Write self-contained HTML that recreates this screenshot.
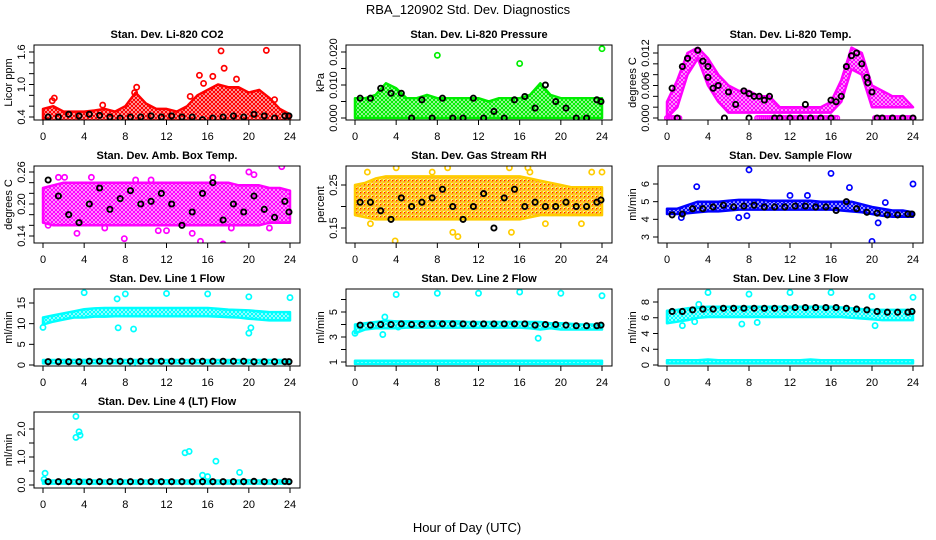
<!DOCTYPE html>
<html><head><meta charset="utf-8"><title>RBA_120902 Std. Dev. Diagnostics</title>
<style>
html,body{margin:0;padding:0;background:#fff;}
svg{display:block;font-family:"Liberation Sans",Arial,sans-serif;}
</style></head>
<body>
<svg id="chart" width="936" height="540" viewBox="0 0 936 540" xmlns="http://www.w3.org/2000/svg">
<text x="468" y="14" text-anchor="middle" font-size="13">RBA_120902  Std. Dev. Diagnostics</text>
<text x="467" y="532" text-anchor="middle" font-size="13">Hour of Day (UTC)</text>
<defs id="defs"></defs>
</svg>
<script>
// ---------- shared data ----------
const hours = [0,1,2,3,4,5,6,7,8,9,10,11,12,13,14,15,16,17,18,19,20,21,22,23,24];
const blackX = [0.5,1.5,2.5,3.5,4.5,5.5,6.5,7.5,8.5,9.5,10.5,11.5,12.5,13.5,14.5,15.5,16.5,17.5,18.5,19.5,20.5,21.5,22.5,23.5,23.9];
const xTicks = [0,4,8,12,16,20,24];

// CO2
const co2Lo = [0.33,0.33,0.33,0.33,0.33,0.33,0.33,0.33,0.33,0.33,0.33,0.33,0.33,0.33,0.33,0.33,0.33,0.33,0.33,0.33,0.33,0.33,0.33,0.33,0.33];
const co2Hi = [0.55,0.6,0.5,0.5,0.5,0.52,0.55,0.5,0.6,0.85,0.65,0.55,0.55,0.5,0.6,0.8,0.9,1.0,0.95,0.95,0.85,0.9,0.75,0.55,0.45];
const co2Black = [0.4,0.4,0.45,0.42,0.45,0.43,0.4,0.38,0.4,0.4,0.42,0.4,0.42,0.4,0.4,0.35,0.38,0.4,0.42,0.4,0.45,0.42,0.38,0.42,0.42];
const co2OutX = [17.3,21.7,17.6,15.2,16.5,18.8,15.6,9.1,8.9,1.1,0.9,5.8,22.5,14.3];
const co2OutY = [1.62,1.63,1.3,1.17,1.15,1.1,1.02,0.95,0.85,0.75,0.7,0.62,0.72,0.78];
const co2Ticks = [0.4,0.6,0.8,1.0,1.2,1.4,1.6];
const co2Labels = ["0.4","","","1.0","","","1.6"];

// Pressure
const presLo = [0,0,0,0,0,0,0,0,0,0,0,0,0,0,0,0,0,0,0,0,0,0,0,0,0];
const presHi = [0.006,0.006,0.007,0.0105,0.009,0.006,0.006,0.007,0.006,0.006,0.006,0.006,0.006,0.005,0.006,0.006,0.006,0.007,0.0105,0.007,0.006,0.006,0.006,0.006,0.006];
const presBlack = [0.006,0.006,0.009,0.0075,0.0075,0,0.0055,0,0.006,0,0,0.006,0,0.002,0,0.0055,0.0065,0.003,0.01,0.005,0.003,0,0,0.0055,0.005];
const presOutX = [8,16,24];
const presOutY = [0.019,0.0165,0.021];
const presTicks = [0,0.005,0.010,0.015,0.020];
const presLabels = ["0.000","","0.010","","0.020"];

// Li-820 Temp
const tempLo = [0,0.002,0.008,0.011,0.006,0.003,0.001,0.001,0.001,0.001,0.001,0.001,0.001,0.001,0.001,0.001,0.001,0.003,0.009,0.008,0.002,0.002,0.002,0.002,0.002];
const tempHi = [0.003,0.007,0.012,0.013,0.011,0.008,0.006,0.005,0.005,0.004,0.004,0.002,0.002,0.002,0.002,0.002,0.003,0.007,0.013,0.012,0.006,0.005,0.004,0.004,0.002];
const tempZeroStart = [0,8.8,20.3];
const tempZeroEnd = [1.2,16.6,24];
const tempBlackX = [0.5,1,1.5,2,3,3.5,4,4,4.5,5,5.6,6,6.7,7.5,8,8,8.5,9,9.5,10,10.5,11,12,13,13.5,14,15,16,16,16.5,17,17.5,18,18.5,19,19.5,19.6,20,20.5,21,22,23,24];
const tempBlackY = [0.0055,0,0.0095,0.011,0.0125,0.0105,0.0095,0.0075,0.0055,0.006,0,0.0048,0.0025,0.005,0,0.0045,0.004,0.004,0.0033,0.004,0,0,0,0,0.0025,0,0,0.0033,0,0.003,0.004,0.0095,0.0115,0.012,0.01,0.0075,0.0065,0.0048,0,0,0,0,0];
const tempTicks = [0,0.002,0.004,0.006,0.008,0.010,0.012];
const tempLabels = ["0.000","","","0.006","","","0.012"];

// Amb Box Temp
const ambLo = [0.165,0.16,0.16,0.16,0.16,0.16,0.16,0.16,0.16,0.16,0.16,0.16,0.16,0.16,0.16,0.16,0.16,0.16,0.16,0.16,0.16,0.16,0.165,0.165,0.165];
const ambHi = [0.23,0.235,0.24,0.24,0.24,0.24,0.24,0.24,0.24,0.24,0.24,0.24,0.24,0.24,0.24,0.24,0.24,0.24,0.24,0.235,0.235,0.235,0.23,0.23,0.225];
const ambBlack = [0.245,0.215,0.18,0.165,0.2,0.23,0.19,0.21,0.225,0.2,0.205,0.22,0.2,0.16,0.185,0.22,0.24,0.17,0.2,0.185,0.215,0.19,0.175,0.205,0.185];
const ambOutX = [0.5,3.3,9,7.9,15.3,17.5,20,23.2,12,14.5,22,1.5,6,4.7,20.5,11.2,2.1,16.5,10.5,18.3];
const ambOutY = [0.16,0.145,0.245,0.135,0.13,0.125,0.26,0.27,0.15,0.145,0.155,0.25,0.155,0.25,0.255,0.15,0.25,0.25,0.245,0.155];
const ambTicks = [0.14,0.16,0.18,0.20,0.22,0.24,0.26];
const ambLabels = ["0.14","","","0.20","","","0.26"];

// Gas Stream RH
const rhLo = [0.18,0.175,0.17,0.17,0.17,0.17,0.17,0.17,0.17,0.17,0.17,0.17,0.17,0.17,0.17,0.17,0.17,0.175,0.18,0.18,0.18,0.18,0.18,0.18,0.18];
const rhHi = [0.25,0.255,0.265,0.27,0.27,0.27,0.27,0.27,0.27,0.27,0.27,0.27,0.27,0.27,0.27,0.27,0.27,0.265,0.26,0.255,0.25,0.245,0.245,0.245,0.245];
const rhBlack = [0.21,0.21,0.19,0.17,0.22,0.2,0.21,0.22,0.24,0.2,0.17,0.2,0.23,0.15,0.22,0.24,0.2,0.21,0.2,0.2,0.21,0.2,0.2,0.21,0.215];
const rhOutX = [4,9,15,16.8,17,23,24,7.5,10,1.5,18.5,22,15.2,9.5,3.9,1.2];
const rhOutY = [0.29,0.29,0.29,0.29,0.28,0.28,0.28,0.28,0.13,0.16,0.16,0.16,0.14,0.14,0.12,0.28];
const rhTicks = [0.15,0.20,0.25];
const rhLabels = ["0.15","","0.25"];

// Sample Flow
const sfLo = [4.3,4.3,4.35,4.4,4.45,4.45,4.5,4.55,4.55,4.55,4.55,4.55,4.55,4.55,4.55,4.55,4.55,4.5,4.45,4.4,4.3,4.2,4.15,4.15,4.15];
const sfHi = [4.6,4.6,4.8,5.0,5.0,5.0,5.05,5.1,5.1,5.1,5.05,5.05,5.05,5.05,5.05,5.0,5.0,5.0,5.0,4.85,4.7,4.6,4.5,4.5,4.4];
const sfBlack = [4.25,4.3,4.6,4.6,4.7,4.8,4.7,4.75,4.8,4.7,4.7,4.7,4.75,4.75,4.7,4.7,4.5,5.0,4.6,4.4,4.35,4.25,4.25,4.3,4.3];
const sfOutX = [8,16,24,2.9,17.8,20,20.6,7,7.8,1.4,12,13.7,21.3];
const sfOutY = [6.8,6.6,6.0,5.85,5.8,2.75,3.8,4.1,4.2,4.1,5.35,5.35,4.95];
const sfTicks = [3,4,5,6];
const sfLabels = ["3","4","5","6"];

// Line 1 Flow
const l1Lo = [9.8,10.5,11,11.5,11.5,11.7,11.7,11.8,11.8,11.8,11.8,11.8,11.8,11.8,11.8,11.8,11.8,11.7,11.6,11.5,11.2,11,10.8,10.8,10.8];
const l1Hi = [11.5,12,12.5,13,13.5,13.7,13.8,13.8,13.8,13.8,13.8,13.8,13.8,13.8,13.8,13.8,13.8,13.6,13.4,13.3,13.2,13,12.8,12.8,12.8];
const l1Lo2 = [0.4,0.4,0.4,0.4,0.4,0.4,0.4,0.4,0.4,0.4,0.4,0.4,0.4,0.4,0.4,0.4,0.4,0.4,0.4,0.4,0.4,0.4,0.4,0.4,0.4];
const l1Hi2 = [1.2,1.2,1.2,1.2,1.2,1.2,1.2,1.2,1.2,1.2,1.2,1.2,1.2,1.2,1.2,1.2,1.2,1.2,1.2,1.2,1.2,1.2,1.2,1.2,1.2];
const l1Black = [0.8,0.8,0.8,0.8,0.9,0.9,0.9,0.9,0.9,0.9,0.9,0.9,0.9,0.9,0.9,0.9,0.9,0.9,0.9,0.9,0.8,0.8,0.8,0.8,0.8];
const l1OutX = [4,8,12,16,24,20,7.2,7.3,8.8,20,20.2,0,8.7];
const l1OutY = [17.5,17.2,17.3,17.2,16.3,16.5,16,9,8.7,7.7,9,9.1,0.1];
const l1Ticks = [0,5,10,15];
const l1Labels = ["0","5","10","15"];

// Line 2 Flow
const l2Lo = [3.3,3.6,3.7,3.7,3.7,3.75,3.75,3.75,3.75,3.75,3.75,3.75,3.75,3.75,3.75,3.75,3.75,3.7,3.6,3.7,3.6,3.6,3.6,3.6,3.6];
const l2Hi = [4.0,4.1,4.2,4.3,4.25,4.25,4.25,4.25,4.25,4.25,4.25,4.2,4.2,4.2,4.2,4.2,4.2,4.2,4.2,4.1,4.1,4.05,4.0,4.0,4.0];
const l2Lo2 = [0.85,0.85,0.85,0.85,0.85,0.85,0.85,0.85,0.85,0.85,0.85,0.85,0.85,0.85,0.85,0.85,0.85,0.85,0.85,0.85,0.85,0.85,0.85,0.85,0.85];
const l2Hi2 = [1.1,1.1,1.1,1.1,1.1,1.1,1.1,1.1,1.1,1.1,1.1,1.1,1.1,1.1,1.1,1.1,1.1,1.1,1.1,1.1,1.1,1.1,1.1,1.1,1.1];
const l2Black = [3.95,3.95,4.0,4.0,4.05,4.0,4.0,4.05,4.05,4.05,4.05,4.05,4.05,4.05,4.05,4.05,4.05,3.95,4.0,4.0,3.95,3.9,3.9,3.9,3.95];
const l2OutX = [4,8,12,16,20,24,0,17.8,2.7,2.9,4.2];
const l2OutY = [6.4,6.5,6.5,6.6,6.5,6.3,3.3,2.9,3.2,4.6,3.8];
const l2Ticks = [1,2,3,4,5,6];
const l2Labels = ["1","","3","","5",""];

// Line 3 Flow
const l3Lo = [5.3,5.5,5.7,6.0,6.1,6.1,6.1,6.1,6.1,6.1,6.1,6.1,6.1,6.1,6.1,6.1,6.1,6.1,6.0,5.9,5.8,5.7,5.7,5.7,5.7];
const l3Hi = [6.9,7.0,7.2,7.3,7.4,7.4,7.4,7.4,7.4,7.4,7.4,7.4,7.4,7.4,7.4,7.4,7.4,7.3,7.2,7.1,7.0,7.0,7.0,7.0,7.0];
const l3Lo2 = [0.2,0.2,0.2,0.2,0.2,0.2,0.2,0.2,0.2,0.2,0.2,0.2,0.2,0.2,0.2,0.2,0.2,0.2,0.2,0.2,0.2,0.2,0.2,0.2,0.2];
const l3Hi2 = [0.6,0.6,0.6,0.6,0.7,0.6,0.6,0.6,0.6,0.6,0.6,0.6,0.6,0.6,0.7,0.6,0.6,0.6,0.6,0.6,0.6,0.6,0.6,0.6,0.6];
const l3Black = [6.8,6.8,7.0,7.1,7.1,7.2,7.2,7.2,7.2,7.2,7.2,7.2,7.3,7.3,7.3,7.3,7.3,7.2,7.1,7.0,6.8,6.7,6.7,6.7,6.8];
const l3OutX = [4,8,12,16,20,24,2.7,7.3,8.8,1.5,20.3,3.1];
const l3OutY = [9.2,9.0,9.2,9.2,8.7,8.6,5.5,5.2,5.4,5.0,5.0,7.7];
const l3Ticks = [0,2,4,6,8];
const l3Labels = ["0","2","4","6","8"];

// Line 4 Flow
const l4Lo = [0.05,0.05,0.05,0.05,0.05,0.05,0.05,0.05,0.05,0.05,0.05,0.05,0.05,0.05,0.05,0.05,0.05,0.05,0.05,0.05,0.05,0.05,0.05,0.05,0.05];
const l4Hi = [0.16,0.16,0.16,0.17,0.18,0.16,0.16,0.16,0.16,0.16,0.16,0.16,0.17,0.16,0.16,0.16,0.16,0.16,0.16,0.16,0.17,0.16,0.16,0.16,0.16];
const l4Black = [0.12,0.12,0.12,0.12,0.12,0.12,0.12,0.12,0.12,0.12,0.12,0.12,0.12,0.12,0.12,0.12,0.12,0.12,0.12,0.12,0.13,0.12,0.12,0.13,0.12];
const l4OutX = [3.2,3.2,3.5,3.6,13.8,14.2,16.8,19.1,0.2,15.5,16,0.1];
const l4OutY = [2.45,1.7,1.9,1.78,1.15,1.2,0.85,0.45,0.42,0.35,0.3,0.2];
const l4Ticks = [0,0.5,1.0,1.5,2.0];
const l4Labels = ["0.0","","1.0","","2.0"];

// ---------- layout (positions only) ----------
const NS = "http://www.w3.org/2000/svg";
const svg = document.getElementById('chart');
const defs = document.getElementById('defs');
const colBox = [[34,300,43,290],[346,612,355,602],[658,923,667,913]];
const rowBox = [[45,120],[166,243],[289,366],[412,488]];

function mk(tag, attrs, parent){
  const e = document.createElementNS(NS, tag);
  for (const k in attrs) e.setAttribute(k, attrs[k]);
  (parent||svg).appendChild(e);
  return e;
}
const patColors = {red:'#ff0000',green:'#00ee00',magenta:'#ff00ff',blue:'#0000ff',cyan:'#00ffff',rh:'#ffcc00'};
for (const k in patColors){
  const p = mk('pattern',{id:'pat-'+k,width:4,height:4,patternUnits:'userSpaceOnUse'},defs);
  mk('rect',{x:0,y:0,width:4,height:4,fill:'#fff'},p);
  mk('circle',{cx:2,cy:2,r:1.5,fill:'none',stroke:patColors[k],'stroke-width':1.3},p);
  if (k==='rh') { mk('rect',{x:0,y:0,width:1.3,height:1.3,fill:'#ff2200'},p); mk('rect',{x:1.5,y:1.5,width:1,height:1,fill:'#ff5500'},p); }
}

function panel(cfg){
  const [x0,x1,h0,h24] = colBox[cfg.col];
  const [y0,y1] = rowBox[cfg.row];
  const [v0,p0,v1,p1] = cfg.yref;
  const X = h => h0 + (h24-h0)*h/24;
  const Y = v => p0 + (p1-p0)*(v-v0)/(v1-v0);
  const g = mk('g',{});
  
  
  const cid = 'clip-'+cfg.name;
  const cp = mk('clipPath',{id:cid},defs);
  mk('rect',{x:x0,y:y0,width:x1-x0,height:y1-y0},cp);
  const plot = mk('g',{'clip-path':'url(#'+cid+')'},g);
  
  
  const col = patColors[cfg.color];
  (cfg.bands||[]).forEach((b,bi)=>{
    let pts = [];
    for (let i=0;i<hours.length;i++) pts.push(X(hours[i]).toFixed(1)+','+Y(b[1][i]).toFixed(1));
    for (let i=hours.length-1;i>=0;i--) pts.push(X(hours[i]).toFixed(1)+','+Y(b[0][i]).toFixed(1));
    const poly = mk('polygon',{points:pts.join(' '),fill:'url(#pat-'+cfg.color+')',stroke:col,'stroke-width':2.5,'stroke-linejoin':'round'},plot);
    
    
  });
  (cfg.zeroSegs||[]).forEach(s=>{
    for (let h=s[0]; h<=s[1]+1e-9; h+=0.2){
      const c = mk('circle',{cx:X(h),cy:Y(0),r:2.3,fill:'none',stroke:col,'stroke-width':1.5},plot);
      
      
    }
  });
  if (cfg.outX) cfg.outX.forEach((h,i)=>{
    const c = mk('circle',{cx:X(h),cy:Y(cfg.outY[i]),r:2.6,fill:'none',stroke:col,'stroke-width':1.7},plot);
    
    
  });
  cfg.blackX.forEach((h,i)=>{
    const c = mk('circle',{cx:X(h),cy:Y(cfg.blackY[i]),r:2.6,fill:'none',stroke:'#000','stroke-width':1.9},plot);
    
    
  });
  const box = mk('rect',{x:x0,y:y0,width:x1-x0,height:y1-y0,fill:'none',stroke:'#000','stroke-width':1},g);
  
  
  const t = mk('text',{x:(x0+x1)/2,y:y0-7,'text-anchor':'middle','font-size':11,'font-weight':'bold'},g);
  t.textContent = cfg.title;
  
  
  const xa = mk('g',{},g);
  
  
  mk('line',{x1:X(0),x2:X(24),y1:y1,y2:y1,stroke:'#000'},xa);
  xTicks.forEach(h=>{
    mk('line',{x1:X(h),x2:X(h),y1:y1,y2:y1+5,stroke:'#000'},xa);
    const l = mk('text',{x:X(h),y:y1+20,'text-anchor':'middle','font-size':11},xa);
    l.textContent = h;
    
    
  });
  const ya = mk('g',{},g);
  
  
  cfg.yTicks.forEach((v,i)=>{
    const yy = Y(v);
    mk('line',{x1:x0,x2:x0-5,y1:yy,y2:yy,stroke:'#000'},ya);
    if (cfg.yLabels[i]){
      const l = mk('text',{x:x0-9,y:yy,'text-anchor':'middle','font-size':11,transform:'rotate(-90 '+(x0-9)+' '+yy+')'},ya);
      l.textContent = cfg.yLabels[i];
      
      
    }
  });
  const yc = (y0+y1)/2;
  const yt = mk('text',{x:x0-22,y:yc,'text-anchor':'middle','font-size':11,transform:'rotate(-90 '+(x0-22)+' '+yc+')'},g);
  yt.textContent = cfg.ylab;
  
  
}

panel({name:'co2',col:0,row:0,title:'Stan. Dev. Li-820 CO2',ylab:'Licor ppm',color:'red',yref:[0.4,117,1.6,52],
  bands:[[co2Lo,co2Hi]],outX:co2OutX,outY:co2OutY,blackX:blackX,blackY:co2Black,yTicks:co2Ticks,yLabels:co2Labels});
panel({name:'pressure',col:1,row:0,title:'Stan. Dev. Li-820 Pressure',ylab:'kPa',color:'green',yref:[0,118,0.020,52],
  bands:[[presLo,presHi]],outX:presOutX,outY:presOutY,blackX:blackX,blackY:presBlack,yTicks:presTicks,yLabels:presLabels});
panel({name:'li820-temp',col:2,row:0,title:'Stan. Dev. Li-820 Temp.',ylab:'degrees C',color:'magenta',yref:[0,118,0.012,53],
  bands:[[tempLo,tempHi]],zeroSegs:tempZeroStart.map((s,i)=>[s,tempZeroEnd[i]]),blackX:tempBlackX,blackY:tempBlackY,yTicks:tempTicks,yLabels:tempLabels});
panel({name:'amb-box-temp',col:0,row:1,title:'Stan. Dev. Amb. Box Temp.',ylab:'degrees C',color:'magenta',yref:[0.26,172,0.14,236],
  bands:[[ambLo,ambHi]],outX:ambOutX,outY:ambOutY,blackX:blackX,blackY:ambBlack,yTicks:ambTicks,yLabels:ambLabels});
panel({name:'gas-rh',col:1,row:1,title:'Stan. Dev. Gas Stream RH',ylab:'percent',color:'rh',yref:[0.25,185,0.15,228],
  bands:[[rhLo,rhHi]],outX:rhOutX,outY:rhOutY,blackX:blackX,blackY:rhBlack,yTicks:rhTicks,yLabels:rhLabels});
panel({name:'sample-flow',col:2,row:1,title:'Stan. Dev. Sample Flow',ylab:'ml/min',color:'blue',yref:[6,184,3,237],
  bands:[[sfLo,sfHi]],outX:sfOutX,outY:sfOutY,blackX:blackX,blackY:sfBlack,yTicks:sfTicks,yLabels:sfLabels});
panel({name:'line1-flow',col:0,row:2,title:'Stan. Dev. Line 1 Flow',ylab:'ml/min',color:'cyan',yref:[15,303,0,365],
  bands:[[l1Lo,l1Hi],[l1Lo2,l1Hi2]],outX:l1OutX,outY:l1OutY,blackX:blackX,blackY:l1Black,yTicks:l1Ticks,yLabels:l1Labels});
panel({name:'line2-flow',col:1,row:2,title:'Stan. Dev. Line 2 Flow',ylab:'ml/min',color:'cyan',yref:[5,312,1,362],
  bands:[[l2Lo,l2Hi],[l2Lo2,l2Hi2]],outX:l2OutX,outY:l2OutY,blackX:blackX,blackY:l2Black,yTicks:l2Ticks,yLabels:l2Labels});
panel({name:'line3-flow',col:2,row:2,title:'Stan. Dev. Line 3 Flow',ylab:'ml/min',color:'cyan',yref:[8,302,0,365],
  bands:[[l3Lo,l3Hi],[l3Lo2,l3Hi2]],outX:l3OutX,outY:l3OutY,blackX:blackX,blackY:l3Black,yTicks:l3Ticks,yLabels:l3Labels});
panel({name:'line4-flow',col:0,row:3,title:'Stan. Dev. Line 4 (LT) Flow',ylab:'ml/min',color:'cyan',yref:[2.0,429,0,485],
  bands:[[l4Lo,l4Hi]],outX:l4OutX,outY:l4OutY,blackX:blackX,blackY:l4Black,yTicks:l4Ticks,yLabels:l4Labels});
</script>
</body></html>
